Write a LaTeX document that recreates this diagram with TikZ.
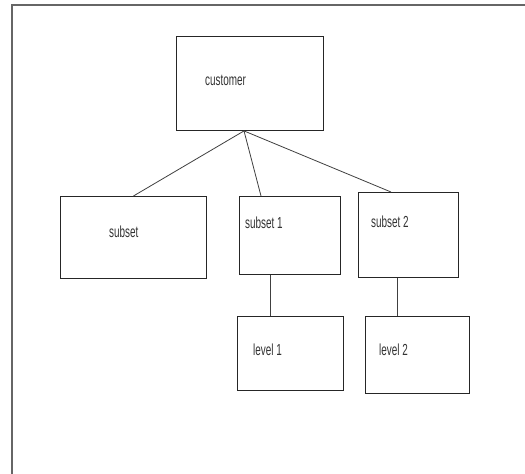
\documentclass[tikz,border=0pt]{standalone}
\usepackage{fontspec}
\setmainfont{Liberation Sans}[FakeStretch=0.62]
\usetikzlibrary{calc}
\begin{document}
\begin{tikzpicture}[x=1pt,y=-1pt,
  box/.style={draw=black!85,line width=0.9pt,inner sep=0pt,anchor=north west},
  lbl/.style={anchor=west,inner sep=0pt,font=\fontsize{16}{17}\selectfont,text=black!80},
  conn/.style={draw=black!75,line width=0.8pt},
  frame/.style={draw=black!60,line width=1.6pt}]
\useasboundingbox (0,0) rectangle (525,474);
\fill[white] (0,0) rectangle (525,474);
\coordinate (ftop) at (525,5);
\coordinate (fcorner) at (12,5);
\coordinate (fbot) at (12,474);
\draw[frame] (ftop) -- (fcorner) -- (fbot);
% boxes
\node[box,minimum width=147pt,minimum height=94pt] (cust) at (176,36) {};
\node[box,minimum width=146pt,minimum height=82pt] (sub) at (60,196) {};
\node[box,minimum width=101pt,minimum height=78pt] (sub1) at (239,196) {};
\node[box,minimum width=100pt,minimum height=85pt] (sub2) at (358,192) {};
\node[box,minimum width=106pt,minimum height=74pt] (lev1) at (237,316) {};
\node[box,minimum width=104pt,minimum height=77pt] (lev2) at (365,316) {};
% labels
\node[lbl] (tcust) at (205,80) {customer};
\node[lbl] (tsub) at (109,232) {subset};
\node[lbl] (tsub1) at (245,223) {subset 1};
\node[lbl] (tsub2) at (371,222) {subset 2};
\node[lbl] (tlev1) at (253,350) {level 1};
\node[lbl] (tlev2) at (379,350) {level 2};
% connectors
\coordinate (hub) at ($(cust.south west)+(68,0)$);
\coordinate (s1top) at ($(sub1.north west)+(22,0)$);
\coordinate (s2top) at ($(sub2.north west)+(33,0)$);
\coordinate (s1bot) at ($(sub1.south west)+(31,0)$);
\coordinate (l1top) at ($(lev1.north west)+(33,0)$);
\coordinate (s2bot) at ($(sub2.south west)+(39,0)$);
\coordinate (l2top) at ($(lev2.north west)+(32,0)$);
\draw[conn] (hub) -- (sub.north);
\draw[conn] (hub) -- (s1top);
\draw[conn] (hub) -- (s2top);
\draw[conn] (s1bot) -- (l1top);
\draw[conn] (s2bot) -- (l2top);
\end{tikzpicture}
\end{document}
